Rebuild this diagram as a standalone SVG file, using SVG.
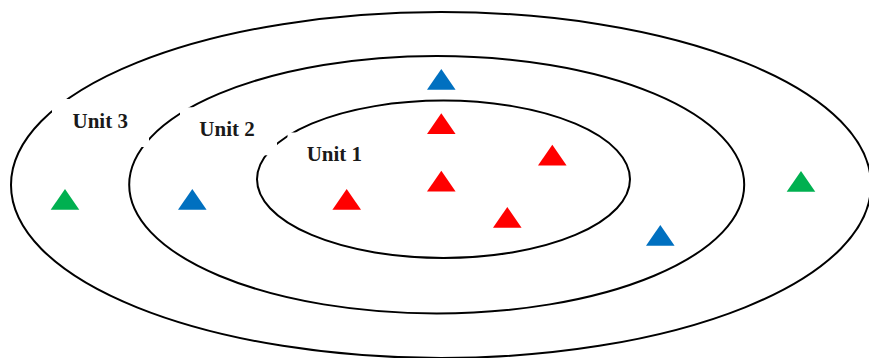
<svg xmlns="http://www.w3.org/2000/svg" xmlns:xlink="http://www.w3.org/1999/xlink" width="869" height="358" viewBox="0 0 869 358">
<style>
.ring{fill:none;stroke:#000;stroke-width:2}
.box{fill:#fff;stroke:none}
.lbl{font-family:"Liberation Serif","Times New Roman",serif;font-weight:bold;font-size:21px;fill:#1a1a1a}
.red{fill:#FF0000}
.blue{fill:#0070C0}
.green{fill:#00B050}
</style>
<defs>
<polygon id="tri" points="0,0 14.3,20.7 -14.3,20.7"/>
</defs>
<rect width="869" height="358" fill="#fff"/>
<g id="rings">
<ellipse id="unit3-ring" class="ring" cx="441" cy="185" rx="430" ry="173"/>
<ellipse id="unit2-ring" class="ring" cx="436.7" cy="184.7" rx="307.5" ry="128.7"/>
<ellipse id="unit1-ring" class="ring" cx="443.5" cy="179.3" rx="186.5" ry="78.7"/>
</g>
<g id="label-unit3">
<rect class="box" x="52" y="99" width="97" height="48"/>
<text class="lbl" x="72.5" y="128">Unit 3</text>
</g>
<g id="label-unit2">
<rect class="box" x="180" y="107.3" width="97" height="48"/>
<text class="lbl" x="199.3" y="136">Unit 2</text>
</g>
<g id="label-unit1">
<rect class="box" x="287.5" y="132.5" width="97" height="48"/>
<text class="lbl" x="306.7" y="161">Unit 1</text>
</g>
<g id="tri-green-left"><use xlink:href="#tri" class="green" x="65" y="189"/></g>
<g id="tri-blue-left"><use xlink:href="#tri" class="blue" x="192.3" y="189"/></g>
<g id="tri-red-left"><use xlink:href="#tri" class="red" x="346.7" y="189"/></g>
<g id="tri-blue-top"><use xlink:href="#tri" class="blue" x="441.3" y="69"/></g>
<g id="tri-red-top"><use xlink:href="#tri" class="red" x="441.3" y="113.3"/></g>
<g id="tri-red-mid"><use xlink:href="#tri" class="red" x="441.3" y="170.7"/></g>
<g id="tri-red-right"><use xlink:href="#tri" class="red" x="552.3" y="144.7"/></g>
<g id="tri-red-bottom"><use xlink:href="#tri" class="red" x="507.3" y="207"/></g>
<g id="tri-blue-right"><use xlink:href="#tri" class="blue" x="660.3" y="225"/></g>
<g id="tri-green-right"><use xlink:href="#tri" class="green" x="801" y="171"/></g>
<g id="connectors"/>
</svg>
